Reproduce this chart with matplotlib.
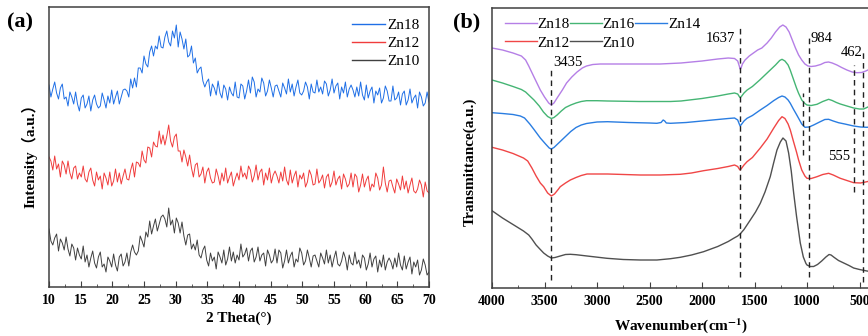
import numpy as np
import matplotlib
matplotlib.use('Agg')
import matplotlib.pyplot as plt

plt.rcParams['font.family'] = ['Liberation Serif', 'Noto Sans CJK SC']
plt.rcParams['mathtext.fontset'] = 'stix'

# ---- (a) XRD, intensity (arbitrary units), 10-70 deg step 0.3
two_theta = np.linspace(10, 70, 201)

xrd_zn18 = [
    202, 190, 198, 205, 194, 188, 199, 203, 188, 190, 181, 195, 190, 183, 195, 183, 176, 189, 192, 179,
    183, 191, 176, 187, 192, 183, 179, 181, 194, 187, 179, 191, 184, 197, 183, 190, 196, 183, 190, 197,
    198, 196, 190, 208, 199, 209, 200, 219, 219, 214, 231, 223, 220, 235, 241, 231, 241, 238, 251, 240,
    239, 250, 256, 245, 241, 256, 249, 262, 240, 255, 248, 238, 248, 230, 232, 241, 224, 229, 214, 218,
    220, 206, 200, 205, 208, 191, 203, 199, 192, 206, 194, 189, 202, 198, 187, 200, 194, 191, 205, 190,
    189, 203, 201, 188, 196, 207, 194, 210, 205, 190, 198, 195, 209, 204, 191, 196, 207, 199, 190, 201,
    202, 196, 190, 204, 199, 193, 208, 195, 203, 191, 200, 207, 194, 192, 196, 205, 200, 188, 203, 195,
    194, 207, 195, 200, 193, 206, 203, 191, 197, 208, 194, 201, 204, 188, 200, 194, 205, 190, 198, 202,
    197, 190, 200, 191, 205, 192, 187, 202, 189, 196, 200, 184, 196, 192, 199, 184, 189, 201, 196, 186,
    186, 201, 187, 189, 195, 182, 193, 196, 182, 187, 198, 184, 189, 192, 179, 195, 190, 181, 184, 195,
    185]

xrd_zn12 = [
    130, 126, 117, 131, 118, 123, 110, 126, 122, 113, 126, 114, 108, 119, 121, 108, 114, 110, 121, 108,
    105, 115, 119, 107, 101, 115, 107, 111, 98, 114, 109, 102, 115, 101, 106, 118, 105, 114, 103, 111,
    118, 108, 107, 117, 124, 110, 125, 124, 120, 136, 127, 124, 140, 139, 130, 145, 141, 140, 156, 143,
    152, 142, 151, 162, 146, 140, 150, 153, 136, 136, 125, 137, 130, 121, 132, 119, 110, 122, 124, 110,
    113, 120, 104, 115, 119, 109, 104, 105, 118, 111, 102, 114, 106, 119, 104, 110, 115, 101, 108, 114,
    107, 121, 110, 114, 108, 121, 117, 105, 111, 122, 107, 115, 118, 102, 114, 107, 119, 104, 112, 116,
    111, 104, 115, 106, 120, 107, 102, 117, 104, 111, 116, 100, 112, 108, 114, 100, 105, 117, 112, 102,
    103, 118, 104, 107, 112, 99, 110, 113, 100, 105, 116, 102, 108, 111, 98, 113, 108, 100, 103, 114,
    100, 113, 110, 95, 102, 113, 100, 107, 111, 96, 103, 100, 114, 109, 97, 102, 120, 104, 95, 106,
    107, 100, 94, 108, 103, 97, 111, 98, 106, 94, 102, 109, 96, 94, 98, 107, 102, 90, 105, 96,
    94]

xrd_zn10 = [
    58, 46, 42, 49, 53, 36, 48, 44, 37, 50, 38, 31, 43, 39, 27, 39, 32, 28, 41, 25,
    32, 20, 29, 36, 24, 19, 30, 35, 20, 23, 15, 30, 26, 20, 33, 22, 16, 30, 33, 21,
    25, 34, 21, 35, 42, 35, 32, 36, 51, 46, 40, 55, 50, 66, 53, 61, 68, 56, 63, 70,
    72, 68, 60, 79, 62, 67, 54, 69, 64, 54, 65, 51, 42, 52, 53, 38, 43, 37, 47, 32,
    29, 37, 41, 27, 21, 34, 26, 30, 18, 35, 30, 24, 37, 22, 28, 40, 26, 35, 24, 32,
    27, 43, 30, 33, 39, 26, 36, 39, 25, 30, 40, 26, 32, 34, 21, 37, 32, 24, 27, 38,
    24, 37, 34, 19, 26, 37, 24, 31, 35, 20, 28, 25, 39, 34, 22, 26, 37, 29, 20, 31,
    32, 26, 20, 34, 29, 23, 37, 24, 32, 20, 29, 36, 23, 21, 26, 35, 29, 17, 32, 24,
    22, 35, 23, 27, 19, 32, 29, 17, 23, 34, 20, 28, 31, 15, 27, 20, 32, 17, 25, 29,
    25, 18, 29, 20, 34, 22, 17, 31, 18, 25, 30, 13, 25, 20, 27, 12, 17, 28, 22, 12,
    15]

# ---- (b) FTIR, transmittance (arbitrary units)
wn_zn18 = [4000, 3900, 3800, 3720, 3680, 3650, 3600, 3540, 3500, 3460, 3435, 3410, 3380, 3330, 3290,
           3240, 3190, 3140, 3100, 3040, 2970, 2800, 2600, 2400, 2200, 2000, 1850, 1750, 1690, 1660,
           1645, 1637, 1628, 1615, 1590, 1550, 1510, 1470, 1430, 1380, 1340, 1300, 1260, 1230, 1200,
           1170, 1140, 1110, 1080, 1050, 1020, 990, 960, 920, 870, 830, 795, 760, 715, 670,
           620, 570, 525, 480, 440, 400]
ft_zn18 = [240, 238, 235, 232, 228, 222, 211, 198, 191, 185, 183, 185, 190, 198, 205,
           211, 216, 220, 222, 223.5, 224, 224, 224, 224, 225, 227, 229, 230, 229.5, 227,
           222, 219, 220, 224, 228, 232, 235, 238, 240, 245, 250, 256, 261, 263, 261,
           256, 248, 240, 233, 228, 224, 222, 221.5, 222, 223.5, 225.5, 226, 225, 223, 220.5,
           218, 216, 215.3, 215.5, 217, 219]

wn_zn16 = [4000, 3900, 3800, 3720, 3680, 3640, 3600, 3550, 3510, 3470, 3435, 3410, 3380, 3340, 3300,
           3250, 3200, 3150, 3100, 3000, 2900, 2600, 2300, 2200, 2000, 1850, 1750, 1690, 1660, 1645,
           1637, 1625, 1600, 1570, 1520, 1450, 1400, 1350, 1300, 1260, 1238, 1210, 1180, 1160, 1130,
           1100, 1080, 1050, 1020, 1000, 960, 905, 850, 794, 760, 720, 683, 620, 556, 500,
           461, 430, 400]
ft_zn16 = [208, 205, 201.5, 198.5, 196, 192, 188, 182, 176, 171.5, 169.5, 170.5, 173, 177, 180.5,
           183, 185, 186.5, 187.3, 187.3, 187, 186.5, 186.5, 187, 189.5, 192, 194, 195, 194, 191.5,
           190.5, 191.5, 195, 198, 201.5, 208, 213, 218, 223, 227.5, 228.7, 227, 223, 218, 209,
           200, 194.7, 188, 184.5, 183, 182.5, 183.7, 186.5, 188.7, 187.5, 185.5, 184, 182, 180, 179,
           179, 180.5, 182]

wn_zn14 = [4000, 3900, 3800, 3730, 3690, 3640, 3600, 3540, 3490, 3455, 3435, 3410, 3380, 3350, 3300,
           3250, 3200, 3150, 3100, 3000, 2900, 2700, 2500, 2430, 2390, 2370, 2355, 2340, 2300, 2150,
           2000, 1850, 1750, 1690, 1660, 1645, 1637, 1625, 1600, 1571, 1520, 1445, 1380, 1318, 1270,
           1238, 1210, 1180, 1159, 1130, 1100, 1080, 1050, 1019, 980, 937, 880, 830, 794, 750,
           700, 640, 556, 490, 429, 400]
ft_zn14 = [175.3, 174.5, 173.5, 172, 170, 164, 158.5, 150, 144, 140, 139, 140.5, 143.5, 146.5, 151.5,
           156.5, 160.5, 163, 164.5, 166, 166.3, 165.5, 165, 164.7, 165.5, 168, 167, 165, 164.7, 165.5,
           167, 168.5, 169.5, 170, 168, 164, 162, 163.5, 167, 169.7, 172.5, 178, 182.5, 187.3, 190.5,
           192, 191, 188, 184.7, 179, 173.5, 169.7, 164, 160.7, 161, 163, 166, 168.5, 168.7, 167,
           165.3, 164, 162, 161, 160.7, 161]

wn_zn12 = [4000, 3900, 3800, 3700, 3660, 3620, 3580, 3540, 3508, 3470, 3435, 3405, 3370, 3350, 3300,
           3254, 3200, 3150, 3095, 2900, 2588, 2400, 2207, 2100, 1985, 1850, 1750, 1690, 1660, 1645,
           1637, 1625, 1600, 1571, 1520, 1445, 1380, 1318, 1270, 1238, 1210, 1180, 1159, 1130, 1100,
           1080, 1050, 1020, 1000, 960, 905, 850, 794, 750, 700, 683, 620, 556, 490, 429, 400]
ft_zn12 = [140.7, 138, 134.5, 130, 127, 120, 112, 105, 101.3, 95, 92, 94, 98.5, 101.3, 105,
           108, 110.5, 112.5, 114, 114, 113, 113, 113.7, 115, 117.3, 119.5, 121.5, 123, 121.5, 119,
           118, 119.5, 123, 126.3, 130.5, 140, 149, 159.7, 167.5, 171.3, 169.5, 164, 158, 147, 136,
           128, 118, 112, 109.7, 109.5, 111.3, 113.5, 114.7, 113, 110.5, 109.7, 107.5, 105.3, 105, 106.3, 107]

wn_zn10 = [4000, 3900, 3800, 3700, 3650, 3620, 3580, 3540, 3508, 3470, 3435, 3400, 3350, 3300, 3254,
           3200, 3095, 2905, 2750, 2588, 2429, 2300, 2207, 2100, 1985, 1850, 1750, 1699, 1660, 1637,
           1600, 1540, 1490, 1445, 1400, 1350, 1318, 1286, 1254, 1229, 1200, 1175, 1150, 1127, 1100,
           1064, 1035, 1010, 1000, 970, 937, 900, 860, 820, 790, 771, 740, 700, 650, 600,
           556, 500, 429, 400]
ft_zn10 = [77.3, 70, 63.5, 57, 53, 49, 43, 38.5, 35, 32, 30, 30.5, 32, 33.5, 33.7,
           33.3, 32, 29.7, 28.5, 28, 28, 29.3, 30.7, 33, 36.3, 41.5, 46.5, 49.7, 52, 54,
           58.5, 68, 76, 84.7, 96, 111.3, 125, 138, 146, 150, 147, 135, 117, 95, 72,
           45, 31, 24.5, 23, 21.5, 21.5, 23.5, 27, 31, 33.5, 33, 30.5, 27.5, 25, 22.5,
           20, 18.5, 17, 16.5]

# marked bands: position and dashed-line extent
bands = [3435, 1637, 984, 555, 462, 1035]
band_lo = [8, 11, 11, 96, 6, 133]
band_hi = [221, 263, 251, 223, 238, 195]
band_labels = ['3435', '1637', '984', '555', '462']

fig = plt.figure(figsize=(8.68, 3.36), dpi=100)
ax1 = fig.add_axes([49 / 868, 49 / 336, 380 / 868, 280 / 336])
ax2 = fig.add_axes([492 / 868, 48 / 336, 378 / 868, 280 / 336])

frame = '#404040'
tick_font = {'family': 'Liberation Serif', 'weight': 'bold', 'size': 10}

# (a)
ax1.plot(two_theta, xrd_zn18, color='#1f6fe6', lw=0.7, label='Zn18')
ax1.plot(two_theta, xrd_zn12, color='#f03c3c', lw=0.7, label='Zn12')
ax1.plot(two_theta, xrd_zn10, color='#404040', lw=0.7, label='Zn10')
ax1.set_xlim(10, 70)
ax1.set_ylim(0, 280)
ax1.set_xticks(np.arange(10, 71, 5))
ax1.set_xticks(np.arange(10, 71, 2.5), minor=True)
ax1.set_yticks([])
ax1.set_xlabel('2 Theta(°)', fontsize=11, fontweight='bold', labelpad=3)
ax1.set_ylabel('Intensity（a.u.）', fontsize=11, fontweight='bold')
ax1.yaxis.set_label_coords(-0.03, 0.48)
leg1 = ax1.legend(loc='upper right', bbox_to_anchor=(0.976, 0.96), frameon=False, fontsize=11,
                  handlelength=2.1, handletextpad=0.2, labelspacing=0.3, borderpad=0, borderaxespad=0)
for h in leg1.get_lines():
    h.set_linewidth(1.0)

# (b)
ax2.plot(wn_zn18, ft_zn18, color='#b57fe6', lw=1.0, label='Zn18')
ax2.plot(wn_zn12, ft_zn12, color='#f04646', lw=1.0, label='Zn12')
ax2.plot(wn_zn16, ft_zn16, color='#45b574', lw=1.0, label='Zn16')
ax2.plot(wn_zn10, ft_zn10, color='#505050', lw=1.0, label='Zn10')
ax2.plot(wn_zn14, ft_zn14, color='#2a7de1', lw=1.0, label='Zn14')
ax2.vlines(bands, band_lo, band_hi, colors='#222222', linestyles=(0, (4, 3)), lw=1.0)
ax2.text(3413, 226, band_labels[0], fontsize=10.5, ha='left', va='center')
ax2.text(1683, 250, band_labels[1], fontsize=10.5, ha='right', va='center')
ax2.text(962, 249, band_labels[2], fontsize=10.5, ha='left', va='center')
ax2.text(588, 131, band_labels[3], fontsize=10.5, ha='right', va='center')
ax2.text(476, 236, band_labels[4], fontsize=10.5, ha='right', va='center')
ax2.set_xlim(4000, 400)
ax2.set_ylim(0, 280)
ax2.set_xticks(np.arange(4000, 399, -500))
ax2.set_xticks(np.arange(4000, 399, -250), minor=True)
ax2.set_yticks([])
ax2.set_xlabel(r'Wavenumber(cm$^{\mathbf{-1}}$)', fontsize=11, fontweight='bold', labelpad=6)
ax2.set_ylabel('Transmittance(a.u.)', fontsize=11, fontweight='bold')
ax2.yaxis.set_label_coords(-0.04, 0.45)
ax2.legend(loc='upper left', bbox_to_anchor=(0.034, 0.965), ncol=3, frameon=False, fontsize=11,
           handlelength=2.1, handletextpad=0.05, columnspacing=0.0, labelspacing=0.3,
           borderpad=0, borderaxespad=0)

for ax in (ax1, ax2):
    for s in ax.spines.values():
        s.set_color(frame)
        s.set_linewidth(1.1)
    ax.tick_params(axis='x', which='major', direction='in', length=4, color=frame, pad=5)
    ax.tick_params(axis='x', which='minor', direction='in', length=2.5, color=frame)
    for lab in ax.get_xticklabels():
        lab.set_fontproperties(tick_font)

fig.text(7 / 868, 1 - 22 / 336, '(a)', fontsize=16, fontweight='bold', va='center')
fig.text(453 / 868, 1 - 22 / 336, '(b)', fontsize=16, fontweight='bold', va='center')

fig.savefig('out.png', dpi=100)
